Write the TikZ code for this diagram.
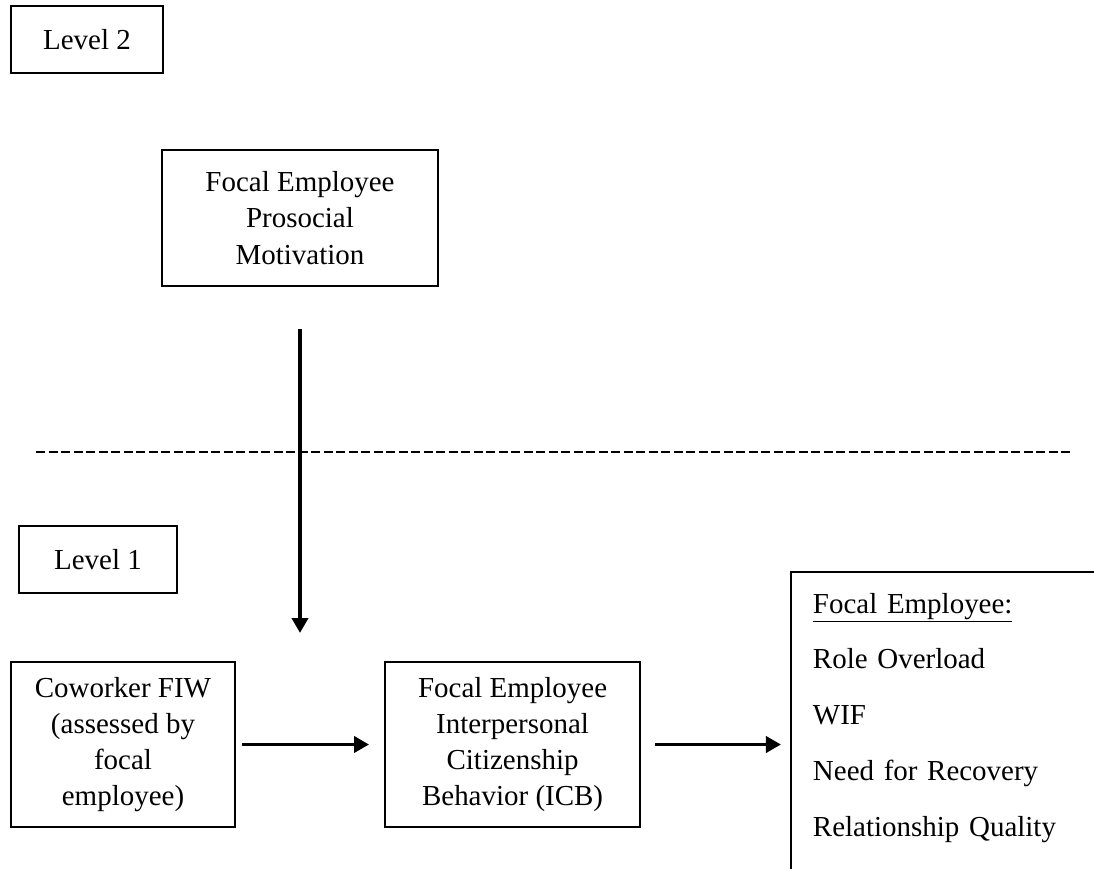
\documentclass[tikz,border=0pt]{standalone}
\usepackage{fontspec}
\setmainfont{Liberation Serif}
\usetikzlibrary{arrows.meta, positioning}
\tikzset{
	box/.style={rectangle, draw=black, line width=1.4pt, align=center, inner sep=0pt, font=\fontsize{20.6pt}{25.8pt}\selectfont},
	levelbox/.style={box, minimum width=3.8cm, minimum height=1.675cm},
	pathbox/.style={box, minimum width=5.6cm, minimum height=4.125cm},
	outbox/.style={rectangle, draw=black, line width=1.4pt, align=left, text width=9cm, inner xsep=0.55cm, inner ysep=0.525cm, font=\fontsize{20.6pt}{39.7pt}\selectfont},
	arrow/.style={-{Triangle[length=0.375cm, width=0.4cm]}, line width=2.8pt},
	levelline/.style={line width=1.6pt, dash pattern=on 0.225cm off 0.0875cm},
}

\begin{document}
\begin{tikzpicture}[x=0.025cm, y=-0.025cm]
	\clip[use as bounding box] (0,0) rectangle (1094,869);
	% level 2
	\node[levelbox] (lvltwo) at (87,39.5) {Level 2};
	\node[box, minimum width=6.9cm, minimum height=3.4cm] (prosocial) at (300,218) {Focal Employee\\ Prosocial\\ Motivation};
	\draw[levelline] (36,452) -- (1072,452);
	% level 1
	\node[levelbox, minimum width=3.95cm] (lvlone) at (98,559.5) {Level 1};
	\node[pathbox] (coworker) at (123,744.5) {Coworker FIW\\ (assessed by\\ focal\\ employee)};
	\node[pathbox, minimum width=6.375cm, right=3.7cm of coworker] (icb) {Focal Employee\\ Interpersonal\\ Citizenship\\ Behavior (ICB)};
	\node[outbox, anchor=north west] (outcome) at (790,571) {\underline{Focal Employee:}\\ Role Overload\\ WIF\\ Need for Recovery\\ Relationship Quality\rule[-2cm]{0pt}{2cm}};
	\coordinate (modpoint) at (300,633);
	\draw[arrow, shorten <=1.05cm] (prosocial.south) -- (prosocial.south |- modpoint);
	\draw[arrow, shorten <=0.15cm, shorten >=0.375cm] (coworker) -- (icb);
	\draw[arrow, shorten <=0.35cm, shorten >=0.225cm] (icb.east) -- (icb.east -| outcome.west);
\end{tikzpicture}
\end{document}
